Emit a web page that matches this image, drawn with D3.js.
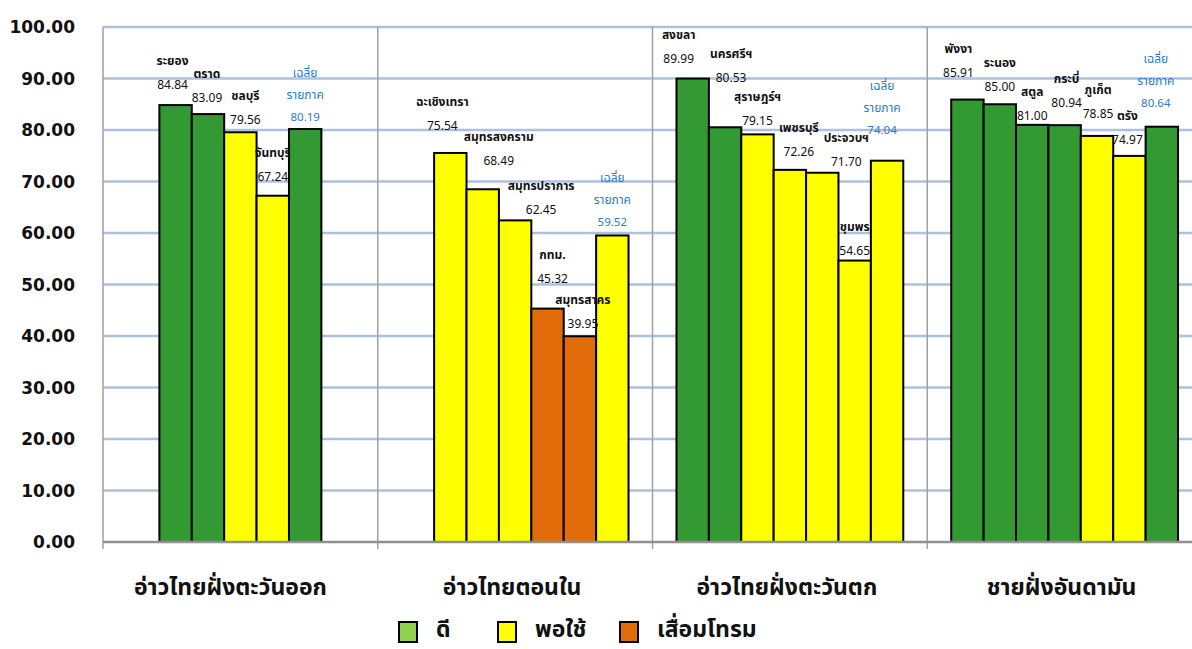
<!DOCTYPE html>
<html><head><meta charset="utf-8">
<script src="https://cdn.jsdelivr.net/npm/d3@7"></script>
<style>
html,body{margin:0;padding:0;background:#fff;}
svg{display:block;font-family:"Noto Sans Thai","Tahoma","Loma","Garuda","Noto Sans","DejaVu Sans",sans-serif;}
</style></head><body>
<svg id="c" width="1192" height="649"></svg>
<script>
// ---- data ----
const regions = ["อ่าวไทยฝั่งตะวันออก","อ่าวไทยตอนใน","อ่าวไทยฝั่งตะวันตก","ชายฝั่งอันดามัน"];
const east_names  = ["ระยอง","ตราด","ชลบุรี","จันทบุรี","เฉลี่ยรายภาค"];
const east_values = [84.84,83.09,79.56,67.24,80.19];
const east_status = ["ดี","ดี","พอใช้","พอใช้","ดี"];
const inner_names  = ["ฉะเชิงเทรา","สมุทรสงคราม","สมุทรปราการ","กทม.","สมุทรสาคร","เฉลี่ยรายภาค"];
const inner_values = [75.54,68.49,62.45,45.32,39.95,59.52];
const inner_status = ["พอใช้","พอใช้","พอใช้","เสื่อมโทรม","เสื่อมโทรม","พอใช้"];
const west_names  = ["สงขลา","นครศรีฯ","สุราษฎร์ฯ","เพชรบุรี","ประจวบฯ","ชุมพร","เฉลี่ยรายภาค"];
const west_values = [89.99,80.53,79.15,72.26,71.70,54.65,74.04];
const west_status = ["ดี","ดี","พอใช้","พอใช้","พอใช้","พอใช้","พอใช้"];
const anda_names  = ["พังงา","ระนอง","สตูล","กระบี่","ภูเก็ต","ตรัง","เฉลี่ยรายภาค"];
const anda_values = [85.91,85.00,81.00,80.94,78.85,74.97,80.64];
const anda_status = ["ดี","ดี","ดี","ดี","พอใช้","พอใช้","ดี"];
const statusKeys = ["ดี","พอใช้","เสื่อมโทรม"];
const yTicks = [0,10,20,30,40,50,60,70,80,90,100];

// ---- layout (not data) ----
const slotStart = [1,1,0,0];           // first slot used in each 7-slot group
const labelOffsets = [                  // [dx, dy] of value label from bar top centre
  [[-3,-20],[-1,-16],[5,-12],[0,-19],[0,-12]],
  [[-8,-27],[16,-28],[26,-10],[5,-30],[3,-12],[0,-13]],
  [[-14,-20],[6,-49],[0,-13],[9,-18],[24,-11],[0,-10],[-5,-31]],
  [[-9,-27],[0,-17],[0,-9],[2,-22],[1,-22],[-2,-16],[-6,-24]]
];

const groups = [
  {names:east_names, values:east_values, status:east_status},
  {names:inner_names, values:inner_values, status:inner_status},
  {names:west_names, values:west_values, status:west_status},
  {names:anda_names, values:anda_values, status:anda_status}
];

const barColor = d3.scaleOrdinal().domain(statusKeys).range(["#339933","#ffff00","#e36c0a"]);
const legendColor = d3.scaleOrdinal().domain(statusKeys).range(["#92d050","#ffff00","#e36c0a"]);

const svg = d3.select("#c");
const pLeft = 103, pRight = 1202, pTop = 27, pBottom = 542;
const x0 = d3.scaleBand().domain(regions).range([pLeft,pRight]).padding(0);
const x1 = d3.scaleBand().domain(d3.range(7)).range([0,x0.bandwidth()]).paddingInner(0).paddingOuter(0.74);
const y = d3.scaleLinear().domain([0,100]).range([pBottom,pTop]);

// grid
svg.append("g").selectAll("line").data(yTicks.filter(t=>t>0)).join("line")
  .attr("x1",pLeft).attr("x2",1192).attr("y1",d=>y(d)).attr("y2",d=>y(d))
  .attr("stroke","#adc0e2").attr("stroke-width",2.5);

// group separators
svg.append("g").selectAll("line").data(regions).join("line")
  .attr("x1",d=>x0(d)).attr("x2",d=>x0(d)).attr("y1",pTop).attr("y2",pBottom+7)
  .attr("stroke","#a0a0a0").attr("stroke-width",1.5);

// y axis labels
svg.append("g").selectAll("text").data(yTicks).join("text")
  .attr("x",75).attr("y",d=>y(d)+6).attr("text-anchor","end")
  .attr("font-size",17).attr("font-weight","bold").attr("fill","#111")
  .style("font-family","'DejaVu Sans',sans-serif")
  .text(d=>d.toFixed(2));

// bars
groups.forEach((g,gi)=>{
  const gx = x0(regions[gi]);
  const items = g.values.map((v,i)=>({v, name:g.names[i], st:g.status[i], slot:slotStart[gi]+i, off:labelOffsets[gi][i], avg:i===g.values.length-1}));
  const gg = svg.append("g").attr("transform",`translate(${gx},0)`);
  gg.selectAll("rect").data(items).join("rect")
    .attr("x",d=>x1(d.slot)).attr("width",x1.bandwidth())
    .attr("y",d=>y(d.v)).attr("height",d=>y(0)-y(d.v))
    .attr("fill",d=>barColor(d.st)).attr("stroke","#000").attr("stroke-width",2);
  const lab = gg.selectAll("g.lab").data(items).join("g").attr("class","lab")
    .attr("transform",d=>`translate(${x1(d.slot)+x1.bandwidth()/2+d.off[0]},${y(d.v)+d.off[1]})`);
  lab.filter(d=>!d.avg).append("text").attr("y",4).attr("text-anchor","middle")
    .attr("font-size",12).attr("fill","#111").style("font-family","'Noto Sans','DejaVu Sans',sans-serif")
    .text(d=>d.v.toFixed(2));
  lab.filter(d=>!d.avg).append("text").attr("y",-20).attr("text-anchor","middle")
    .attr("font-size",12).attr("font-weight","bold").attr("fill","#111").text(d=>d.name);
  const av = lab.filter(d=>d.avg);
  av.append("text").attr("y",4).attr("text-anchor","middle").attr("font-size",11.5)
    .attr("fill","#1f7cd1").style("font-family","'Noto Sans','DejaVu Sans',sans-serif").text(d=>d.v.toFixed(2));
  av.append("text").attr("y",-18).attr("text-anchor","middle").attr("font-size",12)
    .attr("fill","#1f7cd1").text("รายภาค");
  av.append("text").attr("y",-40).attr("text-anchor","middle").attr("font-size",12)
    .attr("fill","#1f7cd1").text("เฉลี่ย");
});

// x axis
svg.append("line").attr("x1",pLeft).attr("x2",1192).attr("y1",pBottom).attr("y2",pBottom)
  .attr("stroke","#909090").attr("stroke-width",2.5);
svg.append("g").selectAll("text").data(regions).join("text")
  .attr("x",(d,i)=>x0(d)+x0.bandwidth()/2-(i===0?10:3)).attr("y",595).attr("text-anchor","middle")
  .attr("font-size",23).attr("font-weight","bold").attr("fill","#111").text(d=>d);

// legend
const lg = svg.append("g");
const lx = [399,498,620];
statusKeys.forEach((k,i)=>{
  lg.append("rect").attr("x",lx[i]).attr("y",622).attr("width",18).attr("height",20)
    .attr("fill",legendColor(k)).attr("stroke","#000").attr("stroke-width",2);
  lg.append("text").attr("x",lx[i]+37).attr("y",637).attr("font-size",23).attr("font-weight","bold")
    .attr("fill","#111").text(k);
});
</script></body></html>
